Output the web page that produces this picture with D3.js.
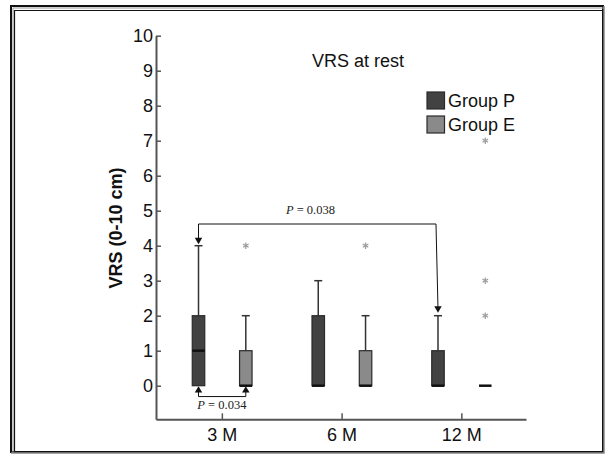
<!DOCTYPE html>
<html>
<head>
<meta charset="utf-8">
<script src="https://cdn.jsdelivr.net/npm/d3@7"></script>
<style>
  body { margin: 0; background: #fff; }
  svg { display: block; font-family: "Liberation Sans", Arial, sans-serif; }
</style>
</head>
<body>
<svg></svg>
<script>

var categories = ["3 M", "6 M", "12 M"];
var groups = ["Group P", "Group E"];
var yTicks = [0, 1, 2, 3, 4, 5, 6, 7, 8, 9, 10];

// box statistics per category
var pLow    = [0, 0, 0];
var pQ1     = [0, 0, 0];
var pMedian = [1, 0, 0];
var pQ3     = [2, 2, 1];
var pHigh   = [4, 3, 2];
var pOutliers = [[], [], []];

var eLow    = [0, 0, 0];
var eQ1     = [0, 0, 0];
var eMedian = [0, 0, 0];
var eQ3     = [1, 1, 0];
var eHigh   = [2, 2, 0];
var eOutliers = [[4], [4], [2, 3, 7]];

var svgWidth = 605;
var svgHeight = 454;
var groupOffset = [-0.195, 0.2];
var groupFill = ["#424242", "#8a8a8a"];
var boxWidth = 12.5;

var svg = d3.select("svg")
  .attr("width", svgWidth)
  .attr("height", svgHeight);

// ----- frame ----- //
svg.append("rect").attr("x", 11).attr("y", 6).attr("width", 592).attr("height", 446)
  .attr("fill", "none").attr("stroke", "#111").attr("stroke-width", 2);
svg.append("path").attr("d", "M13,453 V8 H604").attr("fill", "none")
  .attr("stroke", "#999").attr("stroke-width", 1);
svg.append("path").attr("d", "M14.5,453 V10.5 H604").attr("fill", "none")
  .attr("stroke", "#111").attr("stroke-width", 1.2);
svg.append("path").attr("d", "M11,453 H604 V6").attr("fill", "none")
  .attr("stroke", "#888").attr("stroke-width", 1.5);

// ----- scales ----- //
var scale = {};
scale.x = d3.scaleLinear().domain([-0.55, 2.54]).range([156, 526]);
scale.y = d3.scaleLinear().domain([-0.96, 10]).range([419.3, 35.7]);

// ----- axes ----- //
var yAxis = svg.append("g")
  .attr("transform", translate(156, 0))
  .call(d3.axisLeft(scale.y).tickValues(yTicks).tickSizeInner(-5).tickSizeOuter(0).tickPadding(3));
var xAxis = svg.append("g")
  .attr("transform", translate(0, 419.3))
  .call(d3.axisBottom(scale.x).tickValues([0, 1, 2])
    .tickFormat(function(d) { return categories[d]; })
    .tickSizeInner(-6).tickSizeOuter(0).tickPadding(9));

[yAxis, xAxis].forEach(function(a) {
  a.select(".domain").attr("stroke", "#555").attr("stroke-width", 2);
  a.selectAll(".tick line").attr("stroke", "#555").attr("stroke-width", 1.5);
  a.selectAll(".tick text").attr("fill", "#111").style("font-size", "18px")
    .style("font-family", "'Liberation Sans', Arial, sans-serif");
});

// ----- title and labels ----- //
svg.append("text").attr("x", 358).attr("y", 67).attr("text-anchor", "middle")
  .style("font-size", "18px").attr("fill", "#111").text("VRS at rest");

svg.append("text").attr("transform", translate(122, 228) + " rotate(-90)")
  .attr("text-anchor", "middle").style("font-size", "18px").style("font-weight", "bold")
  .attr("fill", "#111").text("VRS (0-10 cm)");

// ----- boxes ----- //
var boxes = [];
categories.forEach(function(c, i) {
  boxes.push({cat: i, g: 0, low: pLow[i], q1: pQ1[i], med: pMedian[i], q3: pQ3[i], high: pHigh[i], out: pOutliers[i]});
  boxes.push({cat: i, g: 1, low: eLow[i], q1: eQ1[i], med: eMedian[i], q3: eQ3[i], high: eHigh[i], out: eOutliers[i]});
});

function cx(d) { return scale.x(d.cat + groupOffset[d.g]); }

var box = svg.append("g").selectAll("g")
  .data(boxes)
  .enter()
  .append("g");

// whiskers
box.filter(function(d) { return d.high > d.q3; })
  .append("line")
  .attr("x1", cx).attr("x2", cx)
  .attr("y1", function(d) { return scale.y(d.q3); })
  .attr("y2", function(d) { return scale.y(d.high); })
  .attr("stroke", "#333").attr("stroke-width", 1.5);
box.filter(function(d) { return d.high > d.q3; })
  .append("line")
  .attr("x1", function(d) { return cx(d) - 4; })
  .attr("x2", function(d) { return cx(d) + 4; })
  .attr("y1", function(d) { return scale.y(d.high); })
  .attr("y2", function(d) { return scale.y(d.high); })
  .attr("stroke", "#333").attr("stroke-width", 1.5);

box.filter(function(d) { return d.q3 > d.q1; })
  .append("rect")
  .attr("x", function(d) { return cx(d) - boxWidth / 2; })
  .attr("width", boxWidth)
  .attr("y", function(d) { return scale.y(d.q3); })
  .attr("height", function(d) { return scale.y(d.q1) - scale.y(d.q3); })
  .attr("fill", function(d) { return groupFill[d.g]; })
  .attr("stroke", "#2a2a2a").attr("stroke-width", 1.2);

box.append("line")
  .attr("x1", function(d) { return cx(d) - boxWidth / 2; })
  .attr("x2", function(d) { return cx(d) + boxWidth / 2; })
  .attr("y1", function(d) { return scale.y(d.med); })
  .attr("y2", function(d) { return scale.y(d.med); })
  .attr("stroke", "#111").attr("stroke-width", 2.5);

// outliers
var star = d3.symbol().type(d3.symbolAsterisk).size(28);
box.selectAll("path.out")
  .data(function(d) { return d.out.map(function(v) { return {x: cx(d), v: v}; }); })
  .enter()
  .append("path")
  .attr("class", "out")
  .attr("d", star)
  .attr("transform", function(o) { return translate(o.x, scale.y(o.v)); })
  .attr("fill", "none").attr("stroke", "#a0a0a0").attr("stroke-width", 1.3);

// ----- legend ----- //
var legend = svg.append("g").selectAll("g")
  .data(groups)
  .enter()
  .append("g")
  .attr("transform", function(d, i) { return translate(427, 92 + i * 24); });
legend.append("rect").attr("width", 17.5).attr("height", 17)
  .attr("fill", function(d, i) { return groupFill[i]; })
  .attr("stroke", "#2a2a2a").attr("stroke-width", 1.2);
legend.append("text").attr("x", 21).attr("y", 15).style("font-size", "18px")
  .attr("fill", "#111").text(function(d) { return d; });

// ----- significance brackets ----- //
var sigLabels = ["P = 0.038", "P = 0.034"];
var sigFrom = [{cat: 0, g: 0, tip: 4.08}, {cat: 0, g: 0, tip: -0.05}];
var sigTo   = [{cat: 2, g: 0, tip: 2.12}, {cat: 0, g: 1, tip: -0.05}];
var sigLevel = [4.62, -0.31];
var sigTextAt = [0.74, 0];

var arrow = d3.symbol().type(d3.symbolTriangle).size(24);

sigLabels.forEach(function(lbl, i) {
  var x1 = cx(sigFrom[i]), x2 = cx(sigTo[i]);
  var yl = scale.y(sigLevel[i]);
  var up = sigLevel[i] > sigFrom[i].tip;
  var dir = up ? 1 : -1;
  var a1 = scale.y(sigFrom[i].tip) - dir * 3;
  var a2 = scale.y(sigTo[i].tip) - dir * 3;
  svg.append("path")
    .attr("d", "M" + x1 + "," + a1 + " V" + yl + " H" + (x2 - 2 * (up ? 1 : 0)) + " L" + x2 + "," + a2)
    .attr("fill", "none").attr("stroke", "#111").attr("stroke-width", 1);
  [[x1, a1], [x2, a2]].forEach(function(p) {
    svg.append("path").attr("d", arrow)
      .attr("transform", translate(p[0], p[1]) + (up ? " rotate(180)" : ""))
      .attr("fill", "#111");
  });
  var t = svg.append("text")
    .attr("x", scale.x(sigTextAt[i]))
    .attr("y", up ? yl - 10 : yl + 12)
    .attr("text-anchor", "middle")
    .style("font-family", "'Liberation Serif', 'Times New Roman', serif")
    .style("font-size", "12.5px").attr("fill", "#222");
  t.append("tspan").style("font-style", "italic").text("P");
  t.append("tspan").text(lbl.slice(1));
});

function translate(x, y) {
  return "translate(" + x + "," + y + ")";
}

</script>
</body>
</html>
